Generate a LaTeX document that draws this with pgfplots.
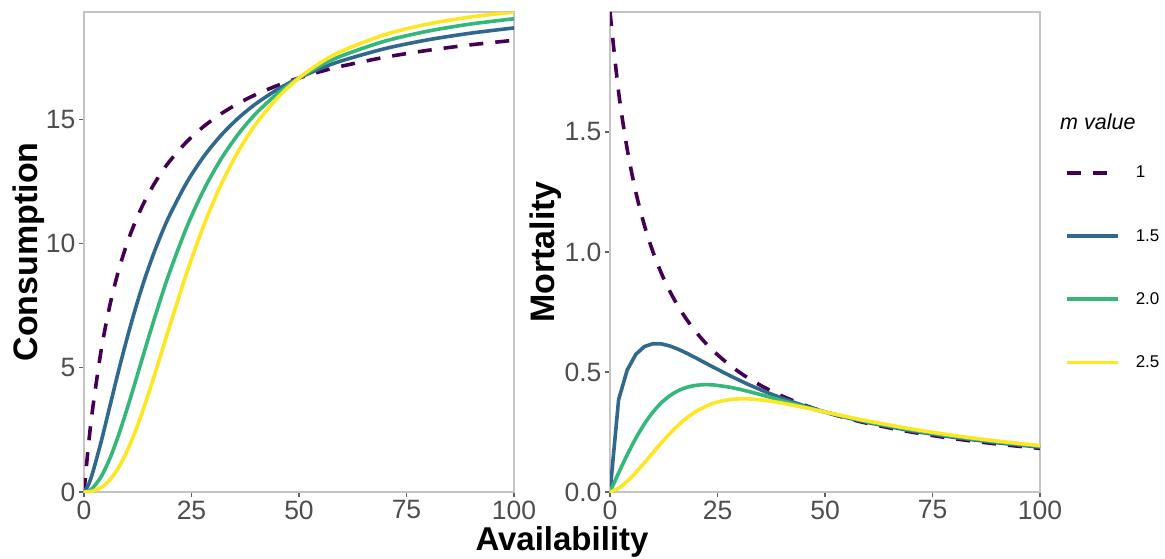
\documentclass[border=0pt]{standalone}
\usepackage{fontspec}
\setmainfont{Liberation Sans}
\usepackage{pgfplots}
\usepackage{pgfplotstable}
\pgfplotsset{compat=1.18}
\definecolor{vir1}{HTML}{440154}
\definecolor{vir2}{HTML}{31688E}
\definecolor{vir3}{HTML}{35B779}
\definecolor{vir4}{HTML}{FDE725}
\definecolor{framegray}{HTML}{C4C4C4}
\definecolor{ticklab}{HTML}{4D4D4D}

\pgfplotstableread{
x c1 c15 c2 c25
0 0 0 0 0
1 1.8182 0.2789 0.0399 0.0057
2 3.3333 0.7692 0.1587 0.0320
4 5.7143 2.0328 0.6202 0.1794
6 7.5 3.4416 1.3433 0.4867
8 8.8889 4.8485 2.2695 0.9741
10 10 6.1804 3.3333 1.6420
12 10.9091 7.4046 4.4720 2.4729
14 11.6667 8.5112 5.6322 3.4358
16 12.3077 9.5019 6.7725 4.4917
18 12.8571 10.3846 7.8641 5.5991
20 13.3333 11.1697 8.8889 6.7196
24 14.1176 12.4890 10.7063 8.8773
28 14.7368 13.5390 12.2118 10.7978
32 15.2381 14.3820 13.4383 12.4197
36 15.6522 15.0680 14.4321 13.7488
40 16 15.6310 15.2381 14.8215
45 16.3636 16.2040 16.0396 15.8696
50 16.6667 16.6667 16.6667 16.6667
55 16.9231 17.0450 17.1631 17.2774
60 17.1429 17.3590 17.5610 17.7496
70 17.5 17.8460 18.1481 18.4121
80 17.7778 18.2010 18.5507 18.8366
90 18 18.4700 18.8372 19.1203
100 18.1818 18.6790 19.0476 19.3170
}\consdata

\pgfplotstableread{
x m1 m15 m2 m25
0 2.0 0 0 0
2 1.6667 0.3846 0.0794 0.0160
4 1.4286 0.5082 0.1550 0.0449
6 1.25 0.5736 0.2239 0.0811
8 1.1111 0.6061 0.2837 0.1218
10 1.0 0.6180 0.3333 0.1642
12 0.9091 0.6170 0.3727 0.2061
14 0.8333 0.6079 0.4023 0.2454
16 0.7692 0.5939 0.4233 0.2807
18 0.7143 0.5769 0.4369 0.3111
20 0.6667 0.5585 0.4444 0.3360
22 0.625 0.5392 0.4472 0.3539
24 0.5882 0.5204 0.4461 0.3699
28 0.5263 0.4835 0.4361 0.3856
32 0.4762 0.4494 0.4199 0.3881
36 0.4348 0.4185 0.4009 0.3819
40 0.4 0.3908 0.3810 0.3705
45 0.3636 0.3601 0.3564 0.3527
50 0.3333 0.3333 0.3333 0.3333
55 0.3077 0.3099 0.3121 0.3141
60 0.2857 0.2893 0.2927 0.2958
70 0.25 0.2549 0.2593 0.2630
80 0.2222 0.2275 0.2319 0.2355
90 0.2 0.2052 0.2093 0.2124
100 0.1818 0.1868 0.1905 0.1932
}\mortdata

\pgfplotsset{
  myaxis/.style={
    scale only axis, width=430pt, height=480pt,
    xmin=0, xmax=100,
    axis line style={draw=framegray, line width=2.5pt},
    every outer x axis line/.append style={draw=framegray, line width=2.5pt},
    every outer y axis line/.append style={draw=framegray, line width=2.5pt},
    tick align=outside,
    tick style={gray!75!black, line width=1.3pt},
    major tick length=5pt,
    xtick={0,25,50,75,100},
    xtick pos=left, ytick pos=left,
    ticklabel style={font=\fontsize{26.5}{26.5}\selectfont, text=ticklab},
    /pgf/number format/assume math mode=true,
    every axis plot/.append style={line width=3.6pt, no markers, line join=round},
  },
  dashedline/.style={vir1, dash pattern=on 14pt off 12pt},
}

\begin{document}
\begin{tikzpicture}[x=1pt,y=1pt]
\useasboundingbox (0,0) rectangle (1165,558);

\begin{axis}[myaxis, at={(84pt,66pt)}, anchor=south west,
  ymin=0, ymax=19.32, ytick={0,5,10,15}]
  \addplot[dashedline, smooth, tension=0.5] table[x=x, y=c1] {\consdata};
  \addplot[vir2, smooth, tension=0.5] table[x=x, y=c15] {\consdata};
  \addplot[vir3, smooth, tension=0.5] table[x=x, y=c2] {\consdata};
  \addplot[vir4, smooth, tension=0.5] table[x=x, y=c25] {\consdata};
\end{axis}

\begin{axis}[myaxis, at={(610pt,66pt)}, anchor=south west,
  ymin=0, ymax=2.0, ytick={0,0.5,1,1.5},
  yticklabel style={/pgf/number format/.cd, fixed, fixed zerofill, precision=1},
  legend style={at={(1.0581,0.4673)}, anchor=west, draw=none, fill=none,
    inner sep=0pt, row sep=50pt, column sep=16pt,
    font=\fontsize{17}{17}\selectfont, nodes={inner sep=0pt}},
  legend cell align=left,
  legend image code/.code={\draw[#1] (0pt,0pt) -- (51pt,0pt);}]
  \addplot[dashedline, smooth, tension=0.5] table[x=x, y=m1] {\mortdata};
  \addplot[vir2] table[x=x, y=m15] {\mortdata};
  \addplot[vir3, smooth, tension=0.5] table[x=x, y=m2] {\mortdata};
  \addplot[vir4, smooth, tension=0.5] table[x=x, y=m25] {\mortdata};
  \legend{1, 1.5, 2.0, 2.5}
\end{axis}

\node[rotate=90, font=\fontsize{34}{34}\selectfont\bfseries, inner sep=0pt] at (29,306) {Consumption};
\node[rotate=90, font=\fontsize{34}{34}\selectfont\bfseries, inner sep=0pt] at (546,306) {Mortality};
\node[font=\fontsize{33}{33}\selectfont\bfseries, inner sep=0pt, anchor=base] at (562,8) {Availability};
\node[font=\fontsize{21.5}{21.5}\selectfont\itshape, inner sep=0pt, anchor=west] at (1060,436) {m value};
\end{tikzpicture}
\end{document}
